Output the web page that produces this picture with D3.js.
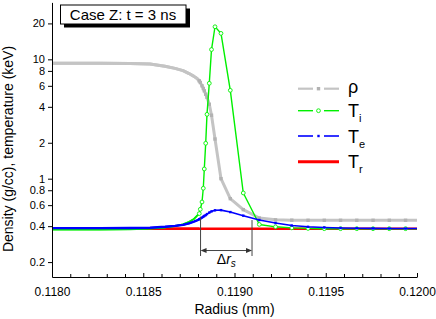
<!DOCTYPE html>
<html><head><meta charset="utf-8">
<script src="https://cdn.jsdelivr.net/npm/d3@7"></script>
<style>
body{margin:0;background:#fff}
svg{display:block}
text{font-family:"Liberation Sans",Arial,Helvetica,sans-serif}
</style>
</head><body>
<svg id="c" width="436" height="319"></svg>
<script>
// ---- data (radius in mm; density g/cc; temperatures keV) ----
const radius = [0.118000, 0.118263, 0.118427, 0.118537, 0.118619, 0.118674, 0.118718, 0.118751, 0.118778, 0.118795,
                0.118807, 0.1188126, 0.118822, 0.118829, 0.1188345, 0.1188422, 0.1188493, 0.1188619, 0.118874, 0.1188932,
                0.118926, 0.118977, 0.1190482, 0.1191359, 0.1192249, 0.1193139, 0.1194030, 0.1194920, 0.1195811, 0.1196701,
                0.1197592, 0.1198482, 0.1199373, 0.1200263];
const rho = [9.26, 9.26, 9.25, 9.15, 8.75, 8.4, 8.05, 7.6, 7.2, 6.9,
             6.6, 6.4, 6.0, 5.7, 5.45, 5.1, 4.8, 4.2, 3.4, 2.15,
             1.0, 0.68, 0.55, 0.468, 0.452, 0.449, 0.448, 0.448, 0.448, 0.448,
             0.448, 0.448, 0.448, 0.448];
const Ti = [0.375, 0.375, 0.377, 0.382, 0.39, 0.40, 0.415, 0.435, 0.46, 0.49,
            0.51, 0.554, 0.638, 0.831, 1.206, 1.98, 3.46, 6.30, 12.08, 18.75,
            16.5, 5.50, 0.759, 0.4135, 0.395, 0.387, 0.383, 0.381, 0.381, 0.381,
            0.381, 0.381, 0.381, 0.381];
const Te = [0.385, 0.385, 0.386, 0.388, 0.395, 0.402, 0.41, 0.422, 0.437, 0.448,
            0.457, 0.462, 0.472, 0.48, 0.487, 0.495, 0.505, 0.52, 0.532, 0.543,
            0.545, 0.525, 0.49, 0.45, 0.425, 0.405, 0.395, 0.39, 0.386, 0.384,
            0.383, 0.382, 0.382, 0.382];
const Tr = [0.38, 0.38, 0.38, 0.38, 0.38, 0.38, 0.38, 0.38, 0.38, 0.38,
            0.38, 0.38, 0.38, 0.38, 0.38, 0.38, 0.38, 0.38, 0.38, 0.38,
            0.38, 0.38, 0.38, 0.38, 0.38, 0.38, 0.38, 0.38, 0.38, 0.38,
            0.38, 0.38, 0.38, 0.38];
const xTicks = [0.1180, 0.1185, 0.1190, 0.1195, 0.1200];
const yTicks = [0.2, 0.4, 0.6, 0.8, 1, 2, 4, 6, 8, 10, 20];
const yTickLabels = ["0.2", "0.4", "0.6", "0.8", "1", "2", "4", "6", "8", "10", "20"];
const xDomain = [0.118, 0.120];
const yDomain = [0.15, 30];
const titleText = "Case Z: t = 3 ns";
const xLabel = "Radius (mm)";
const yLabel = "Density (g/cc), temperature (keV)";
const deltaR = [0.118814, 0.119096];     // shock width markers
const deltaTop = [0.48, 0.45];
const deltaBottom = 0.225, deltaArrow = 0.25;
const markerFrom = 0.1188;               // mesh markers resolved from here on

// ---- layout ----
const L = 52, R = 417, T = 2.4, B = 277;
const svg = d3.select("#c");
const x = d3.scaleLinear().domain(xDomain).range([L, R]);
const y = d3.scaleLog().domain(yDomain).range([B, T]);

svg.append("defs").append("clipPath").attr("id", "clip")
  .append("rect").attr("x", L).attr("y", 0).attr("width", R - L).attr("height", B);

const series = [
  {name: "ρ",  sub: "",  values: rho, color: "#c4c4c4", width: 3,   dense: 3,   marker: "square", mcolor: "#b2b2b2"},
  {name: "T",  sub: "r", values: Tr,  color: "#ff0000", width: 2.6, dense: 2.6, marker: null},
  {name: "T",  sub: "i", values: Ti,  color: "#00f000", width: 1.4, dense: 1.8, marker: "circle", mcolor: "#00f000"},
  {name: "T",  sub: "e", values: Te,  color: "#0000ff", width: 1.6, dense: 2.4, marker: "dot", mcolor: "#0000ff"}
];

const plot = svg.append("g").attr("clip-path", "url(#clip)");
const line = d3.line().x(d => x(d[0])).y(d => y(d[1]));

function drawMarker(g, type, cx, cy, col) {
  if (type === "square") g.append("rect").attr("x", cx - 1.7).attr("y", cy - 1.7).attr("width", 3.4).attr("height", 3.4).attr("fill", col);
  else if (type === "circle") g.append("circle").attr("cx", cx).attr("cy", cy).attr("r", 1.9).attr("fill", "#fff").attr("stroke", col).attr("stroke-width", 0.9);
  else if (type === "dot") g.append("rect").attr("x", cx - 1.2).attr("y", cy - 1.2).attr("width", 2.4).attr("height", 2.4).attr("fill", col);
}

series.forEach(s => {
  const pts = radius.map((r, i) => [r, s.values[i]]);
  plot.append("path").attr("d", line(pts)).attr("fill", "none")
    .attr("stroke", s.color).attr("stroke-width", s.width).attr("stroke-linejoin", "round");
  // densely meshed (compressed) zone: markers merge into a thicker trace
  const densePts = pts.filter(p => p[0] <= markerFrom + 0.00001);
  plot.append("path").attr("d", line(densePts)).attr("fill", "none")
    .attr("stroke", s.color).attr("stroke-width", s.dense).attr("stroke-linejoin", "round");
  if (s.marker) {
    const mg = plot.append("g");
    pts.filter(p => p[0] >= markerFrom).forEach(p => drawMarker(mg, s.marker, x(p[0]), y(p[1]), s.mcolor));
  }
});

// ---- axes ----
const xAxis = svg.append("g").attr("transform", `translate(0,${B})`)
  .call(d3.axisBottom(x).tickValues(xTicks).tickFormat(d3.format(".4f")).tickSize(-4).tickSizeOuter(0).tickPadding(10));
const minor = x.ticks(20).filter(t => !xTicks.some(m => Math.abs(m - t) < 1e-9));
svg.append("g").attr("transform", `translate(0,${B})`)
  .call(d3.axisBottom(x).tickValues(minor).tickFormat("").tickSize(-3).tickSizeOuter(0))
  .select(".domain").remove();
const yAxis = svg.append("g").attr("transform", `translate(${L},0)`)
  .call(d3.axisLeft(y).tickValues(yTicks).tickFormat((d, i) => yTickLabels[i]).tickSize(4).tickSizeOuter(0).tickPadding(3));
[xAxis, yAxis].forEach(a => {
  a.selectAll("text").attr("font-family", '"Liberation Sans", Arial, sans-serif').attr("fill", "#000");
  a.selectAll("line,path").attr("stroke", "#000");
});
xAxis.selectAll("text").attr("font-size", 12);
yAxis.selectAll("text").attr("font-size", 11);
svg.selectAll(".tick line").attr("stroke", "#000");

svg.append("text").attr("x", (L + R) / 2).attr("y", 314).attr("text-anchor", "middle")
  .attr("font-size", 14).text(xLabel);
svg.append("text").attr("transform", "translate(13,149) rotate(-90)").attr("text-anchor", "middle")
  .attr("font-size", 14).text(yLabel);

// ---- title box ----
svg.append("rect").attr("x", 64).attr("y", 8.5).attr("width", 126).attr("height", 19).attr("fill", "#000");
svg.append("rect").attr("x", 60.5).attr("y", 5).attr("width", 125.5).attr("height", 19).attr("fill", "#fff").attr("stroke", "#000").attr("stroke-width", 1);
svg.append("text").attr("x", 123).attr("y", 20.3).attr("text-anchor", "middle").attr("font-size", 15).text(titleText);

// ---- legend ----
const legendY = [88.7, 110.7, 136, 161.7];
const legendOrder = [0, 2, 3, 1];
legendOrder.forEach((si, k) => {
  const s = series[si], ly = legendY[k];
  const g = svg.append("g");
  const lw = Math.min(s.width, 2.2);
  if (s.marker) {
    g.append("line").attr("x1", 298).attr("x2", 313).attr("y1", ly).attr("y2", ly).attr("stroke", s.color).attr("stroke-width", lw);
    g.append("line").attr("x1", 324).attr("x2", 339).attr("y1", ly).attr("y2", ly).attr("stroke", s.color).attr("stroke-width", lw);
    drawMarker(g, s.marker, 318.5, ly, s.mcolor);
  } else {
    g.append("line").attr("x1", 298).attr("x2", 339).attr("y1", ly).attr("y2", ly).attr("stroke", s.color).attr("stroke-width", 3);
  }
  const t = g.append("text").attr("x", 348).attr("y", ly + (s.sub ? 6.5 : 4.3)).attr("font-size", 18);
  t.append("tspan").text(s.name);
  if (s.sub) t.append("tspan").attr("font-size", 11).attr("dy", 5).text(s.sub);
});

// ---- shock width annotation ----
const ann = svg.append("g").attr("stroke", "#444").attr("stroke-width", 1);
deltaR.forEach((r, i) => {
  ann.append("line").attr("x1", x(r)).attr("x2", x(r)).attr("y1", y(deltaTop[i])).attr("y2", y(deltaBottom));
});
const ay = y(deltaArrow), ax1 = x(deltaR[0]), ax2 = x(deltaR[1]);
ann.append("line").attr("x1", ax1 + 5).attr("x2", ax2 - 5).attr("y1", ay).attr("y2", ay);
svg.append("path").attr("d", `M${ax1},${ay}L${ax1 + 6},${ay - 2.5}L${ax1 + 6},${ay + 2.5}Z M${ax2},${ay}L${ax2 - 6},${ay - 2.5}L${ax2 - 6},${ay + 2.5}Z`).attr("fill", "#333");
const dl = svg.append("text").attr("x", (ax1 + ax2) / 2).attr("y", ay + 13).attr("text-anchor", "middle")
  .attr("font-family", '"Liberation Serif", "Times New Roman", serif').attr("font-size", 14);
dl.append("tspan").text("Δ");
dl.append("tspan").attr("font-style", "italic").text("r");
dl.append("tspan").attr("font-style", "italic").attr("font-size", 10).attr("dy", 3).text("s");
</script>
</body></html>
